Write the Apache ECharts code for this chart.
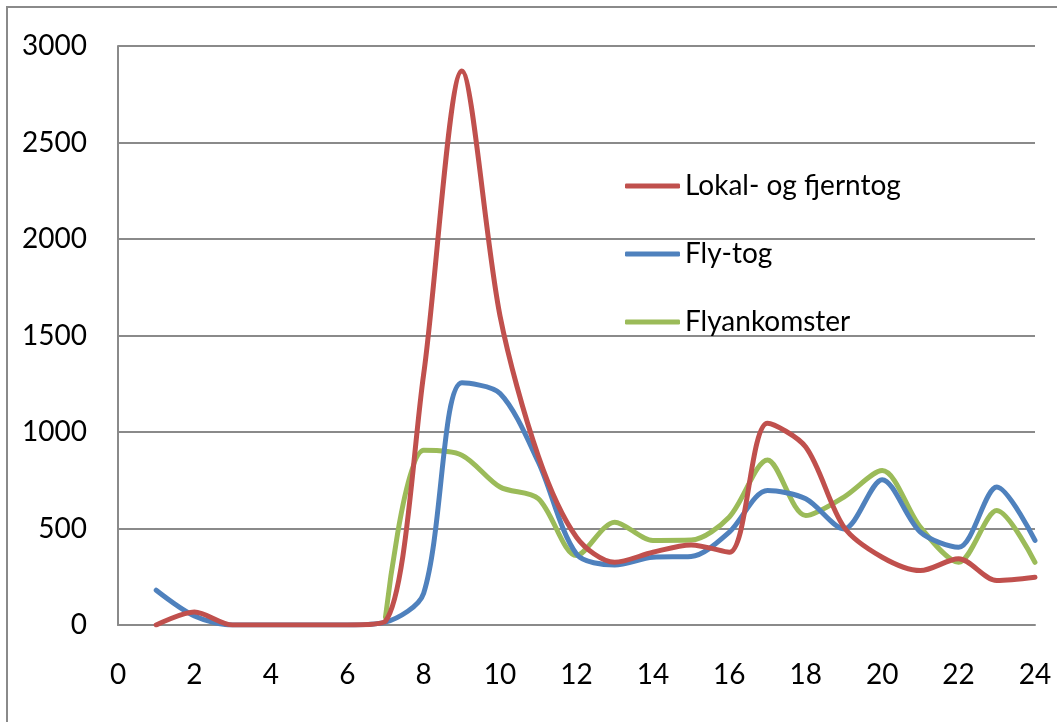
<!DOCTYPE html>
<html>
<head>
<meta charset="utf-8">
<script src="https://cdn.jsdelivr.net/npm/echarts@6/dist/echarts.min.js"></script>
<style>
  html, body { margin: 0; padding: 0; background: #fff; }
  #chart { width: 1057px; height: 722px; }
</style>
</head>
<body>
<div id="chart"></div>
<script>
// timer (x) og antall (y), lest av figuren
var hours = [1, 2, 3, 4, 5, 6, 7, 8, 9, 10, 11, 12, 13, 14, 15, 16, 17, 18, 19, 20, 21, 22, 23, 24];
var lokalOgFjerntog = [0, 67, 0, 0, 0, 0, 20, 1300, 2870, 1600, 875, 455, 325, 377, 415, 377, 1045, 922, 507, 351, 282, 343, 230, 247];
var flyTog = [180, 47, 0, 0, 0, 0, 15, 165, 1255, 1200, 845, 368, 311, 351, 355, 481, 697, 654, 498, 753, 481, 403, 715, 438];
var flyankomster = [null, null, null, null, null, null, 40, 905, 880, 715, 655, 360, 533, 438, 440, 560, 855, 567, 663, 800, 507, 325, 593, 325];

var seriesNames = ['Lokal- og fjerntog', 'Fly-tog', 'Flyankomster'];
var colors = ['#C0504D', '#4F81BD', '#9BBB59'];
var xTicks = { min: 0, max: 24, interval: 2 };
var yTicks = { min: 0, max: 3000, interval: 500 };

function pairs(values) {
    var out = [];
    hours.forEach(function (h, i) {
        if (values[i] !== null) out.push([h, values[i]]);
    });
    return out;
}

var font = 'Lato, "Open Sans", sans-serif';

var option = {
    animation: false,
    backgroundColor: '#fff',
    grid: { left: 118, right: 22, top: 46, bottom: 97 },
    graphic: [{
        type: 'rect',
        shape: { x: 7, y: 7, width: 1200, height: 900 },
        style: { fill: 'none', stroke: '#8a8a8a', lineWidth: 2 },
        silent: true
    }],
    legend: {
        orient: 'vertical',
        left: 620,
        top: 165,
        icon: 'roundRect',
        itemWidth: 55,
        itemHeight: 5,
        itemGap: 36,
        textStyle: { fontFamily: font, fontSize: 28, lineHeight: 32, color: '#000' },
        data: seriesNames
    },
    xAxis: {
        type: 'value',
        min: xTicks.min,
        max: xTicks.max,
        interval: xTicks.interval,
        axisLine: { show: true, lineStyle: { color: '#8a8a8a', width: 2 } },
        axisTick: { show: false },
        splitLine: { show: false },
        axisLabel: { margin: 36, fontFamily: font, fontSize: 28, color: '#000' }
    },
    yAxis: {
        type: 'value',
        min: yTicks.min,
        max: yTicks.max,
        interval: yTicks.interval,
        axisLine: { show: true, lineStyle: { color: '#8a8a8a', width: 2 } },
        axisTick: { show: false },
        splitLine: { show: true, lineStyle: { color: '#8a8a8a', width: 2 } },
        axisLabel: {
            margin: 31, fontFamily: font, fontSize: 28, color: '#000',
            formatter: function (v) { return String(v); }
        }
    },
    series: [lokalOgFjerntog, flyTog, flyankomster].map(function (vals, i) {
        return {
            name: seriesNames[i],
            type: 'line',
            smooth: 0.3,
            showSymbol: false,
            symbol: 'none',
            color: colors[i],
            lineStyle: { width: 5, color: colors[i], cap: 'round' },
            data: pairs(vals),
            z: 3 - i
        };
    })
};

echarts.init(document.getElementById('chart')).setOption(option);
</script>
</body>
</html>
